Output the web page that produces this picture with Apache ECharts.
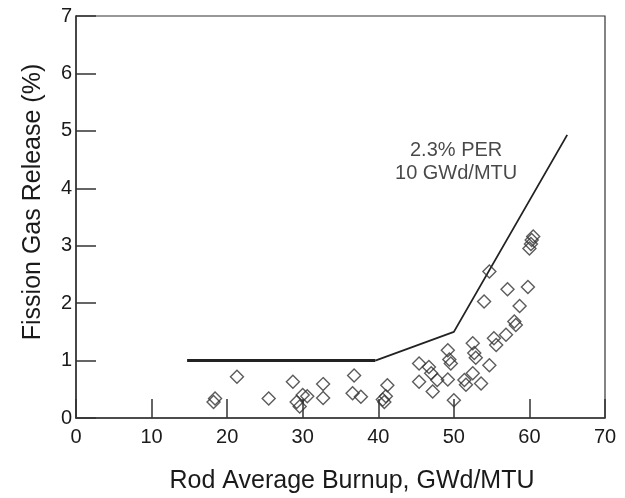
<!DOCTYPE html>
<html>
<head>
<meta charset="utf-8">
<script src="https://cdn.jsdelivr.net/npm/echarts@6/dist/echarts.min.js"></script>
<style>html,body{margin:0;padding:0;background:#fff;}#c{width:625px;height:498px;}</style>
</head>
<body>
<div id="c"></div>
<script>
// Data: rod average burnup (GWd/MTU) and fission gas release (%)
var burnupX = [18.2,18.4,21.3,25.5,28.7,29.2,29.6,30.0,30.6,32.7,32.7,36.8,36.6,37.7,40.6,41.0,41.2,40.8,
  45.4,46.7,47.0,45.4,47.8,47.2,49.2,49.4,49.6,49.2,50.0,51.4,51.6,52.5,52.7,52.9,52.5,53.6,54.7,54.0,54.7,
  55.3,55.6,56.9,57.1,58.0,58.2,58.7,59.8,60.0,60.2,60.3,60.5];
var releaseY = [0.28,0.34,0.72,0.34,0.63,0.28,0.20,0.40,0.38,0.59,0.35,0.74,0.43,0.37,0.32,0.38,0.57,0.28,
  0.95,0.89,0.78,0.63,0.66,0.46,1.18,1.02,0.95,0.67,0.31,0.66,0.58,1.30,1.13,1.05,0.78,0.60,0.92,2.03,2.55,
  1.39,1.27,1.45,2.24,1.68,1.62,1.95,2.28,2.95,3.03,3.10,3.16];
// Limit line: 1% flat, then 2.3% per 10 GWd/MTU
var flatX = [14.7, 39.6];
var flatY = [1.0, 1.0];
var rampX = [39.6, 50.0, 65.0];
var rampY = [1.0, 1.5, 4.93];
var xTicks = [0,10,20,30,40,50,60,70];
var yTicks = [0,1,2,3,4,5,6,7];
var noteText = '2.3% PER\n10 GWd/MTU';
var notePos = [50.3, 4.45];

function pairs(xs, ys){ return xs.map(function(x,i){ return [x, ys[i]]; }); }

var FONT = 'Liberation Sans, Arial, sans-serif';
var chart = echarts.init(document.getElementById('c'), null, {renderer:'canvas'});
chart.setOption({
  animation: false,
  backgroundColor: '#fff',
  grid: {left: 76, right: 20, top: 16, bottom: 80, show: true, borderColor: '#333', borderWidth: 1.2, backgroundColor: 'transparent'},
  xAxis: {
    type: 'value', min: xTicks[0], max: xTicks[xTicks.length-1], interval: 10,
    axisLine: {show: true, lineStyle: {color: '#333', width: 1.5}},
    axisTick: {show: true, inside: true, length: 19, lineStyle: {color: '#333', width: 1.5}},
    axisLabel: {color: '#1a1a1a', fontSize: 20, fontFamily: FONT, margin: 9},
    splitLine: {show: false}
  },
  yAxis: {
    type: 'value', min: yTicks[0], max: yTicks[yTicks.length-1], interval: 1,
    axisLine: {show: true, lineStyle: {color: '#333', width: 1.5}},
    axisTick: {show: true, inside: true, length: 20, lineStyle: {color: '#333', width: 1.5}},
    axisLabel: {color: '#1a1a1a', fontSize: 20, fontFamily: FONT, margin: 4},
    splitLine: {show: false}
  },
  graphic: [
    {type: 'text', x: 352, y: 481, style: {text: 'Rod Average Burnup, GWd/MTU', font: '25px ' + FONT, fill: '#1a1a1a', align: 'center', verticalAlign: 'middle'}},
    {type: 'text', x: 33, y: 202, rotation: Math.PI/2, style: {text: 'Fission Gas Release (%)', font: '25px ' + FONT, fill: '#1a1a1a', align: 'center', verticalAlign: 'middle'}}
  ],
  series: [
    {type: 'line', data: pairs(flatX, flatY), symbol: 'none', lineStyle: {color: '#222', width: 3}, z: 3},
    {type: 'line', data: pairs(rampX, rampY), symbol: 'none', lineStyle: {color: '#222', width: 1.8}, z: 3},
    {type: 'scatter', data: pairs(burnupX, releaseY), symbol: 'diamond', symbolSize: 13,
      itemStyle: {color: 'rgba(0,0,0,0)', borderColor: '#333', borderWidth: 1.4}, z: 4},
    {type: 'scatter', data: [notePos], symbolSize: 0, silent: true,
      label: {show: true, position: 'inside', formatter: noteText, color: '#1a1a1a', fontSize: 20, fontFamily: FONT, lineHeight: 23, align: 'center'}}
  ]
});
</script>
</body>
</html>
